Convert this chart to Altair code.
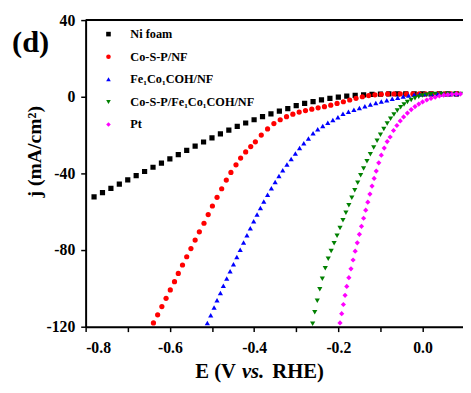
import altair as alt
import pandas as pd

FONT = "Liberation Serif"

series_names = ["Ni foam", "Co-S-P/NF", "Fe\u2081Co\u2081COH/NF", "Co-S-P/Fe\u2081Co\u2081COH/NF", "Pt"]
series_colors = ["#000000", "#ff0000", "#0000ff", "#008000", "#ff00ff"]
series_shapes = ["square", "circle", "triangle-up", "triangle-down", "diamond"]

# Ni foam
e_ni = [-0.78, -0.76, -0.74, -0.72, -0.70, -0.68, -0.66, -0.64, -0.62, -0.60,
        -0.58, -0.56, -0.54, -0.52, -0.50, -0.48, -0.46, -0.44, -0.42, -0.40,
        -0.38, -0.36, -0.34, -0.32, -0.30, -0.28, -0.26, -0.24, -0.22, -0.20,
        -0.18, -0.16, -0.14, -0.12, -0.10, -0.08, -0.06, -0.04, -0.02, 0.00,
        0.02, 0.04, 0.06, 0.08]
j_ni = [-52.2, -50.0, -47.8, -45.6, -43.4, -41.2, -39.0, -36.8, -34.6, -32.4,
        -30.2, -28.0, -25.8, -23.6, -21.5, -19.4, -17.4, -15.5, -13.7, -12.0,
        -10.4, -8.9, -7.5, -6.2, -4.6, -3.5, -2.5, -1.6, -0.8, -0.2,
        0.3, 0.7, 1.0, 1.2, 1.4, 1.5, 1.5, 1.5, 1.5, 1.5,
        1.5, 1.5, 1.5, 1.5]

# Co-S-P/NF
e_cosp = [-0.639, -0.629, -0.619, -0.609, -0.599, -0.589, -0.580, -0.570, -0.560, -0.550,
          -0.540, -0.530, -0.519, -0.509, -0.499, -0.488, -0.477, -0.466, -0.455, -0.443,
          -0.432, -0.420, -0.408, -0.397, -0.383, -0.368, -0.353, -0.338, -0.323, -0.308,
          -0.293, -0.278, -0.263, -0.248, -0.233, -0.218, -0.203, -0.188, -0.173, -0.158,
          -0.143, -0.128, -0.113, -0.098, -0.083, -0.068, -0.053, -0.038, -0.023, -0.008,
          0.007, 0.022, 0.037, 0.052, 0.067, 0.082]
j_cosp = [-118.0, -113.8, -109.5, -105.2, -100.8, -96.5, -92.2, -87.8, -83.5, -79.2,
          -74.8, -70.5, -66.0, -61.5, -57.0, -52.5, -48.0, -43.5, -39.5, -35.5,
          -32.0, -28.8, -26.0, -23.5, -20.0, -16.8, -14.0, -12.0, -10.4, -9.1,
          -8.0, -7.2, -6.5, -5.8, -5.2, -4.4, -3.5, -2.6, -1.7, -0.8,
          0.0, 0.6, 1.0, 1.3, 1.5, 1.5, 1.5, 1.5, 1.5, 1.5,
          1.5, 1.5, 1.5, 1.5, 1.5, 1.5]

# Fe1Co1COH/NF
e_feco = [-0.511, -0.503, -0.495, -0.488, -0.480, -0.473, -0.465, -0.457, -0.449, -0.441,
          -0.433, -0.425, -0.417, -0.409, -0.401, -0.393, -0.385, -0.377, -0.368, -0.359,
          -0.350, -0.341, -0.332, -0.322, -0.312, -0.302, -0.292, -0.282, -0.271, -0.260,
          -0.249, -0.237, -0.225, -0.213, -0.201, -0.189, -0.176, -0.163, -0.150, -0.137,
          -0.124, -0.111, -0.098, -0.085, -0.072, -0.059, -0.046, -0.033, -0.020, -0.007,
          0.006, 0.021, 0.036, 0.051, 0.066, 0.081]
j_feco = [-118.0, -114.0, -110.0, -106.2, -102.4, -98.6, -94.8, -91.0, -87.4, -83.6,
          -79.9, -76.0, -72.3, -68.6, -65.0, -61.5, -58.0, -54.6, -51.2, -47.8,
          -44.5, -41.3, -38.3, -35.4, -32.5, -29.6, -26.8, -24.2, -21.8, -19.0,
          -17.0, -15.2, -13.6, -12.1, -10.7, -8.9, -7.8, -6.8, -5.9, -5.0,
          -4.1, -3.3, -2.5, -1.8, -1.1, -0.5, 0.1, 0.6, 1.0, 1.3,
          1.5, 1.5, 1.5, 1.5, 1.5, 1.5]

# Co-S-P/Fe1Co1COH/NF
e_hyb = [-0.261, -0.256, -0.250, -0.244, -0.238, -0.231, -0.224, -0.217, -0.210, -0.203,
         -0.196, -0.189, -0.182, -0.175, -0.168, -0.161, -0.154, -0.147, -0.140, -0.132,
         -0.124, -0.116, -0.108, -0.100, -0.092, -0.084, -0.076, -0.068, -0.060, -0.052,
         -0.044, -0.036, -0.027, -0.018, -0.009, 0.000, 0.010, 0.020, 0.030, 0.045,
         0.060, 0.075, 0.090]
j_hyb = [-118.5, -112.5, -106.5, -100.5, -95.0, -89.5, -84.5, -80.5, -76.5, -72.5,
         -68.5, -64.5, -60.5, -56.6, -52.7, -48.8, -44.9, -41.0, -37.4, -33.6,
         -30.0, -26.5, -23.0, -19.8, -16.8, -14.0, -11.5, -9.2, -7.2, -5.5,
         -4.0, -2.8, -1.7, -0.8, 0.0, 0.6, 1.0, 1.3, 1.5, 1.5,
         1.5, 1.5, 1.5]

# Pt
e_pt = [-0.196, -0.192, -0.188, -0.184, -0.180, -0.175, -0.170, -0.165, -0.160, -0.155,
        -0.150, -0.145, -0.140, -0.135, -0.130, -0.125, -0.120, -0.115, -0.110, -0.104,
        -0.098, -0.091, -0.084, -0.077, -0.069, -0.061, -0.053, -0.045, -0.036, -0.027,
        -0.018, -0.009, 0.000, 0.010, 0.020, 0.030, 0.040, 0.050, 0.060, 0.070,
        0.080, 0.090]
j_pt = [-118.0, -113.2, -108.4, -103.6, -99.0, -94.4, -89.8, -85.2, -80.6, -76.2,
        -71.8, -67.6, -63.4, -59.2, -55.0, -50.8, -46.6, -42.6, -38.8, -34.5,
        -30.5, -26.8, -23.4, -21.0, -17.6, -15.0, -12.6, -10.5, -8.5, -6.7,
        -5.1, -3.8, -2.7, -1.7, -0.9, -0.2, 0.4, 0.8, 1.1, 1.3,
        1.45, 1.5]

x_ticks = [-0.8, -0.7, -0.6, -0.5, -0.4, -0.3, -0.2, -0.1, 0.0]
y_ticks = [-120, -100, -80, -60, -40, -20, 0, 20, 40]

all_e = [e_ni, e_cosp, e_feco, e_hyb, e_pt]
all_j = [j_ni, j_cosp, j_feco, j_hyb, j_pt]

rows = []
for name, es, js in zip(series_names, all_e, all_j):
    for e, j in zip(es, js):
        rows.append({"series": name, "E": e, "j": j})
df = pd.DataFrame(rows)

W, H = 384, 312

x_label_expr = ("(abs(round(datum.value*10)) % 2 == 0) ? "
                "((datum.value < -0.001 ? '-' : '') + format(abs(datum.value), '.1f')) : ''")
y_label_expr = ("(datum.value % 40 == 0) ? "
                "((datum.value < 0 ? '-' : '') + format(abs(datum.value), 'd')) : ''")

axis_common = dict(
    grid=False, title=None,
    domainColor="black", domainWidth=2,
    tickColor="black", tickWidth=1.5, tickSize=5,
    labelFont=FONT, labelFontWeight="bold", labelFontSize=16, labelColor="black",
)

legend = alt.Legend(
    title=None, orient="none", legendX=17, legendY=8,
    labelFont=FONT, labelFontWeight="bold", labelFontSize=12.5, labelColor="black",
    symbolSize=22, symbolStrokeWidth=0, rowPadding=10, labelOffset=16, padding=0,
)

points = alt.Chart(df).mark_point(filled=True, size=28, opacity=1, clip=True).encode(
    x=alt.X("E:Q", scale=alt.Scale(domain=[-0.8, 0.096], nice=False, zero=False),
            axis=alt.Axis(values=x_ticks, labelExpr=x_label_expr, labelPadding=8, **axis_common)),
    y=alt.Y("j:Q", scale=alt.Scale(domain=[-120, 40], nice=False, zero=False),
            axis=alt.Axis(values=y_ticks, labelExpr=y_label_expr, labelPadding=6, **axis_common)),
    color=alt.Color("series:N", scale=alt.Scale(domain=series_names, range=series_colors), legend=legend),
    shape=alt.Shape("series:N", scale=alt.Scale(domain=series_names, range=series_shapes), legend=legend),
)

top_rule = alt.Chart(pd.DataFrame({"y": [40]})).mark_rule(color="black", strokeWidth=2).encode(
    y="y:Q", x=alt.value(0), x2=alt.value(W)
)


def label(text, x, y, size, align="left", baseline="alphabetic", angle=0, style="normal"):
    return alt.Chart(pd.DataFrame({"t": [text]})).mark_text(
        font=FONT, fontWeight="bold", fontSize=size, fontStyle=style, color="black",
        align=align, baseline=baseline, angle=angle,
    ).encode(x=alt.value(x), y=alt.value(y), text="t:N")


panel = label("(d)", -56, 32, 31, align="center")
ytitle = label("j (mA/cm\u00b2)", -45, 134, 20, align="center", angle=270)
xt1 = label("E (V", 153, 364, 21, align="right")
xt2 = label("vs.", 159, 364, 21, align="left", style="italic")
xt3 = label("RHE)", 190, 364, 21, align="left")

chart = alt.layer(points, top_rule, panel, ytitle, xt1, xt2, xt3).properties(
    width=W, height=H,
    autosize=alt.AutoSizeParams(type="none"),
    padding={"left": 79, "top": 9, "right": 0, "bottom": 56},
).configure_view(stroke=None).configure(background="white")

chart.save("out.html", embed_options={"renderer": "svg", "actions": False})
